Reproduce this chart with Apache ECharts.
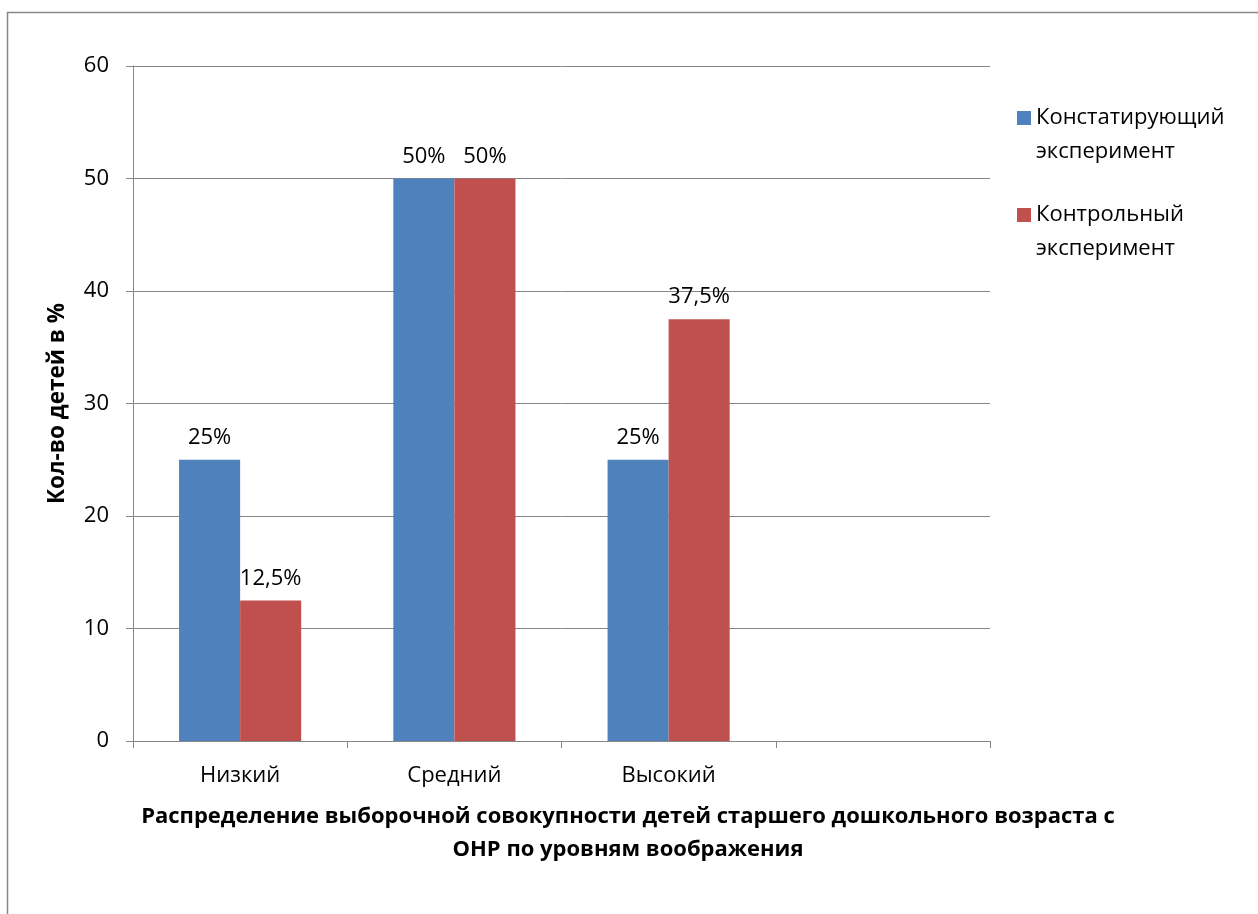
<!DOCTYPE html>
<html>
<head>
<meta charset="utf-8">
<script src="https://cdn.jsdelivr.net/npm/echarts@6/dist/echarts.min.js"></script>
<style>
html,body{margin:0;padding:0;background:#fff;}
#c{width:1258px;height:914px;}
</style>
</head>
<body>
<div id="c"></div>
<script>
var categories = ['Низкий', 'Средний', 'Высокий', ''];
var seriesNames = ['Констатирующий\nэксперимент', 'Контрольный\nэксперимент'];
var ascertaining = [25, 50, 25, null];
var control = [12.5, 50, 37.5, null];
var yTicks = [0, 10, 20, 30, 40, 50, 60];
var yAxisTitle = 'Кол-во детей в %';
var xAxisTitle = 'Распределение выборочной совокупности детей старшего дошкольного возраста с\nОНР по уровням воображения';

var FONT = '"Open Sans", "Noto Sans", sans-serif';
var GRAY = '#868686';

function pct(p) { return String(p.value).replace('.', ',') + '%'; }

var chart = echarts.init(document.getElementById('c'), null, {renderer: 'canvas'});
chart.setOption({
  animation: false,
  backgroundColor: '#fff',
  textStyle: {fontFamily: FONT},
  graphic: [{
    type: 'rect', shape: {x: 7.5, y: 12.5, width: 1400, height: 1000},
    style: {fill: 'none', stroke: GRAY, lineWidth: 1.5}, silent: true, z: -10
  }],
  title: {
    text: xAxisTitle, left: 628, top: 800, textAlign: 'center', padding: 0,
    textStyle: {fontFamily: FONT, fontSize: 22, fontWeight: 'bold', color: '#000', lineHeight: 33}
  },
  legend: {
    orient: 'vertical', left: 1017, top: 67, padding: 0,
    itemWidth: 14, itemHeight: 14, itemGap: -5,
    icon: 'rect',
    data: seriesNames,
    formatter: function (name) { return '\n' + name; },
    textStyle: {fontFamily: FONT, fontSize: 22, color: '#000', lineHeight: 34}
  },
  grid: {left: 133, right: 268, top: 66, bottom: 173},
  xAxis: {
    type: 'category', data: categories,
    axisLine: {lineStyle: {color: GRAY, width: 1}},
    axisTick: {show: true, length: 7, lineStyle: {color: GRAY}},
    axisLabel: {fontFamily: FONT, fontSize: 22, color: '#000', margin: 24}
  },
  yAxis: {
    type: 'value', min: yTicks[0], max: yTicks[yTicks.length - 1], interval: 10,
    name: yAxisTitle, nameLocation: 'middle', nameGap: 64, nameRotate: 90,
    nameTextStyle: {fontFamily: FONT, fontSize: 22.5, fontWeight: 'bold', color: '#000'},
    axisLine: {show: true, lineStyle: {color: GRAY, width: 1}},
    axisTick: {show: true, length: 7, lineStyle: {color: GRAY}},
    axisLabel: {fontFamily: FONT, fontSize: 22, color: '#000', margin: 24},
    splitLine: {lineStyle: {color: GRAY, width: 1}}
  },
  series: [{
    name: seriesNames[0], type: 'bar', data: ascertaining,
    barGap: '0%', barCategoryGap: '43%',
    itemStyle: {color: '#4F81BD'},
    label: {show: true, position: 'top', distance: 11, formatter: pct, fontFamily: FONT, fontSize: 22, color: '#000'}
  }, {
    name: seriesNames[1], type: 'bar', data: control,
    barGap: '0%', barCategoryGap: '43%',
    itemStyle: {color: '#C0504D'},
    label: {show: true, position: 'top', distance: 11, formatter: pct, fontFamily: FONT, fontSize: 22, color: '#000'}
  }]
});
</script>
</body>
</html>
